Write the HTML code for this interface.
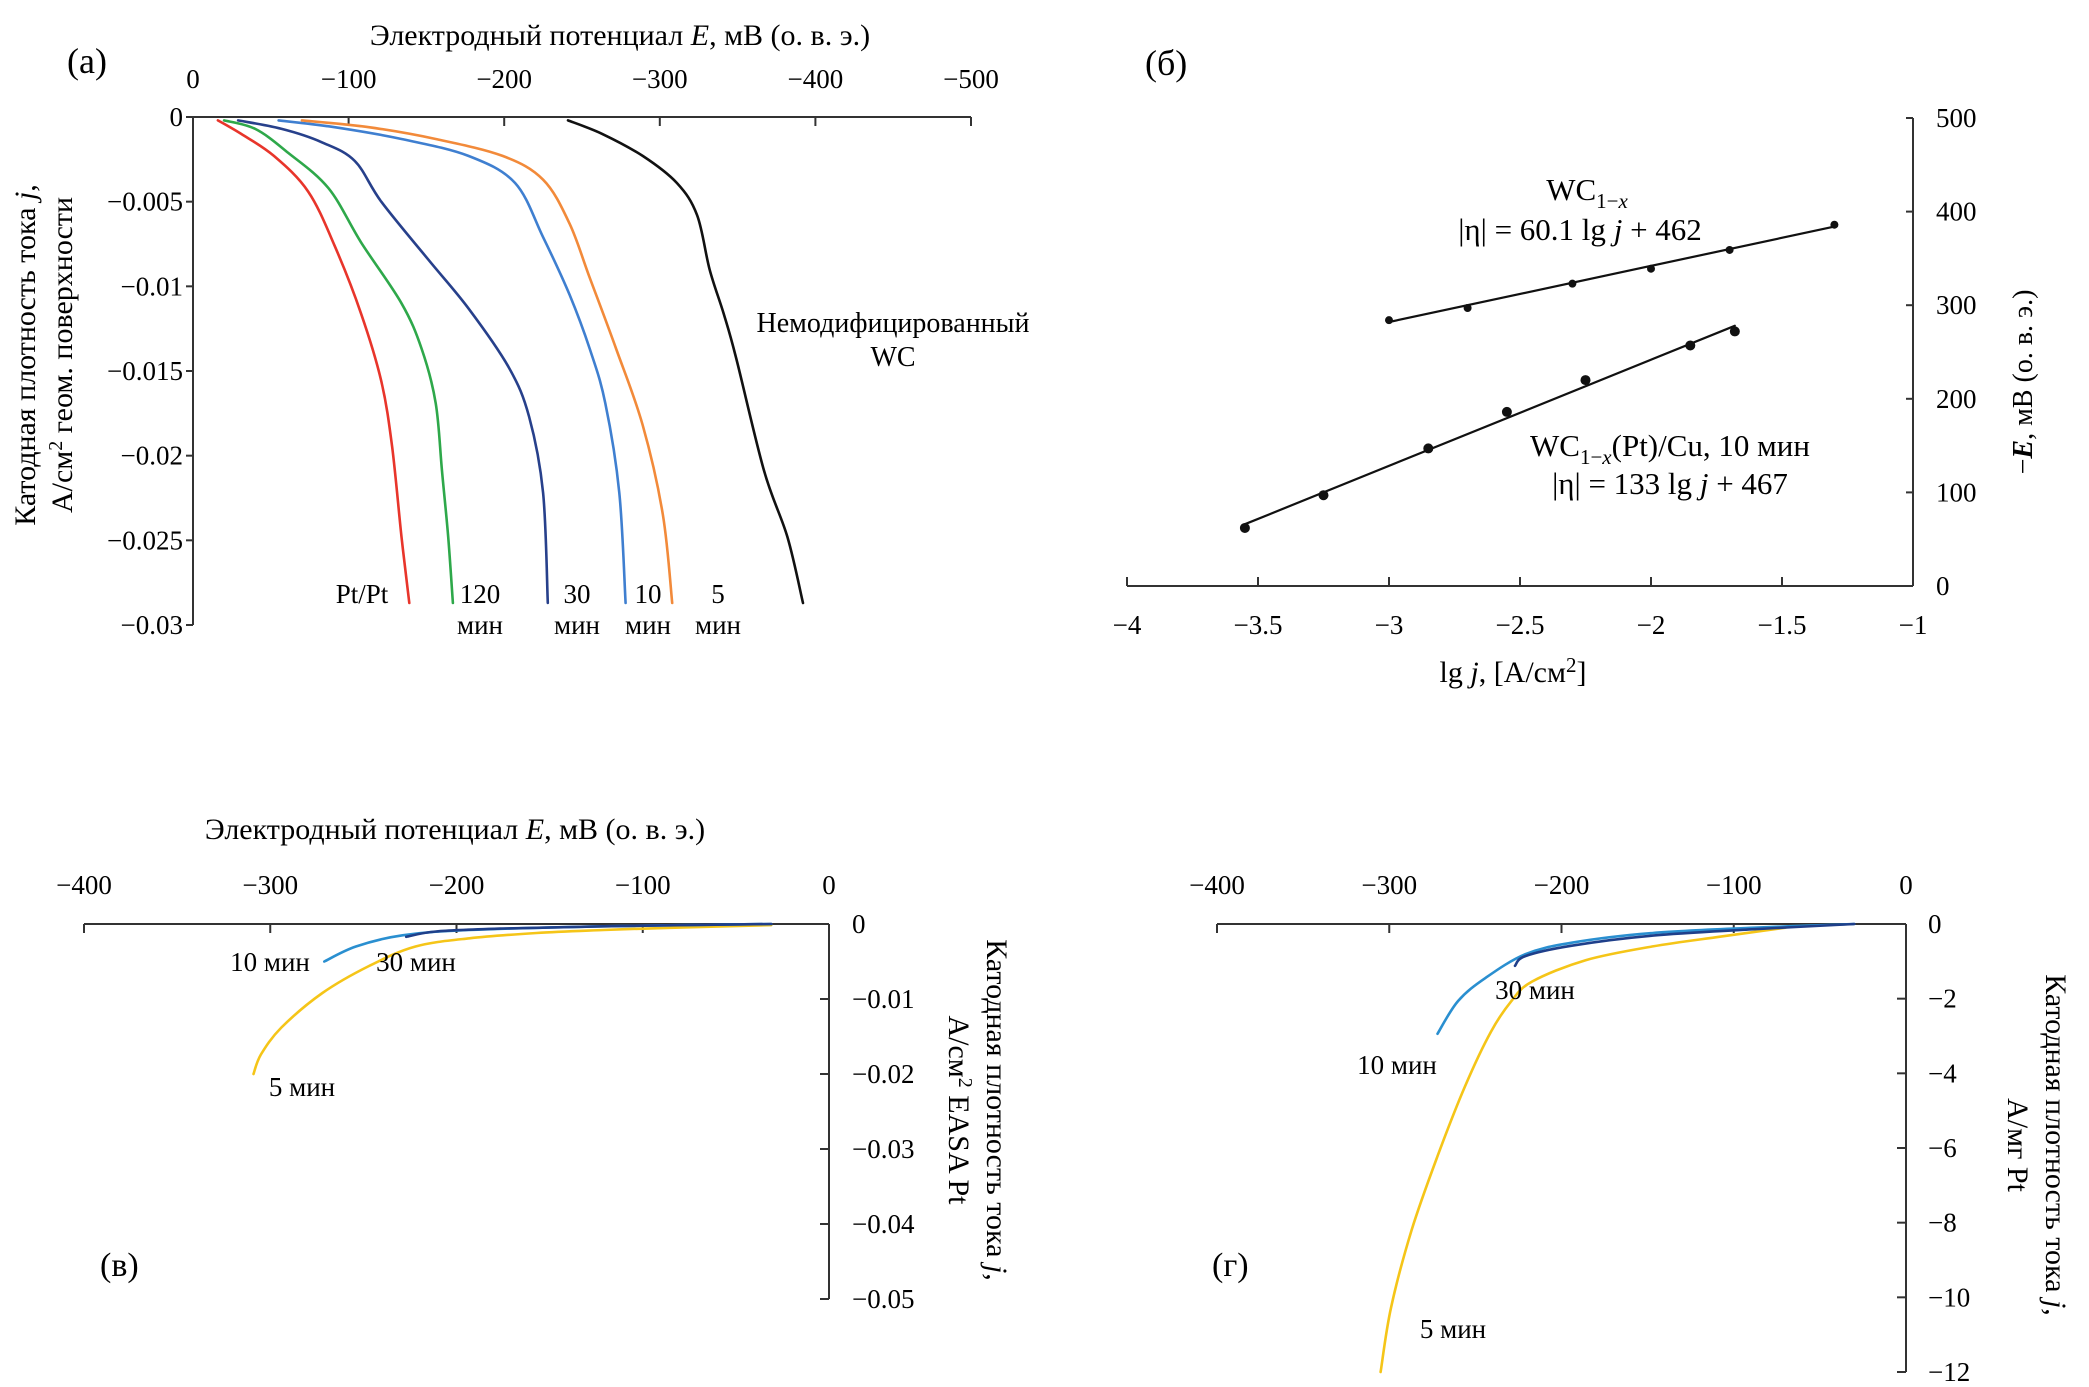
<!DOCTYPE html>
<html><head><meta charset="utf-8"><style>
html,body{margin:0;padding:0;background:#fff}
svg{display:block;font-family:"Liberation Serif","Noto Serif CJK SC",serif}
</style></head><body>
<svg id="fig" width="2089" height="1387" viewBox="0 0 2089 1387" xmlns="http://www.w3.org/2000/svg">
<g id="ga"></g>
<g id="gb"></g>
<g id="gc"></g>
<g id="gd"></g>
</svg>
<script>
// ---- panel (a) data ----
const aTicksX=[0,-100,-200,-300,-400,-500];
const aTicksY=[0,-0.005,-0.01,-0.015,-0.02,-0.025,-0.03];
const aPtE=[-16,-31,-52,-74,-91,-108,-121,-128,-134,-139];
const aPtJ=[-0.0002,-0.001,-0.0023,-0.0044,-0.0076,-0.0116,-0.0156,-0.0195,-0.0248,-0.0287];
const a120E=[-20,-40,-61,-87,-108,-134,-147,-156,-160,-164,-167];
const a120J=[-0.0002,-0.0007,-0.0021,-0.0042,-0.0074,-0.011,-0.0137,-0.0169,-0.0209,-0.0248,-0.0287];
const a30E=[-29,-57,-83,-104,-121,-151,-177,-203,-216,-225,-228];
const a30J=[-0.0002,-0.0007,-0.0015,-0.0026,-0.005,-0.0084,-0.0113,-0.0148,-0.0177,-0.0222,-0.0287];
const a10E=[-55,-91,-134,-177,-207,-225,-242,-255,-265,-274,-278];
const a10J=[-0.0002,-0.0006,-0.0013,-0.0023,-0.0039,-0.0071,-0.0105,-0.0137,-0.0169,-0.0222,-0.0287];
const a5E=[-70,-113,-156,-199,-225,-242,-255,-272,-289,-302,-308];
const a5J=[-0.0002,-0.0006,-0.0013,-0.0023,-0.0037,-0.0063,-0.0095,-0.0137,-0.0182,-0.0235,-0.0287];
const aWcE=[-241,-263,-289,-311,-324,-332,-341,-349,-367,-382,-392];
const aWcJ=[-0.0002,-0.001,-0.0023,-0.0039,-0.0058,-0.009,-0.0116,-0.0142,-0.0209,-0.0248,-0.0287];
// ---- panel (б) data ----
const bTicksX=[-4,-3.5,-3,-2.5,-2,-1.5,-1];
const bTicksY=[0,100,200,300,400,500];
const bUpX=[-3,-2.7,-2.3,-2,-1.7,-1.3];
const bUpY=[284,297,323,339,359,386];
const bUpFitX=[-3,-1.3];
const bUpFitY=[282,384];
const bLoX=[-3.55,-3.25,-2.85,-2.55,-2.25,-1.85,-1.68];
const bLoY=[62,97,147,186,220,257,272];
const bLoFitX=[-3.55,-1.68];
const bLoFitY=[66,278];
// ---- panel (в) data ----
const cTicksX=[-400,-300,-200,-100,0];
const cTicksY=[0,-0.01,-0.02,-0.03,-0.04,-0.05];
const c5E=[-31,-85,-121,-157,-193,-222,-247,-272,-294,-305,-309];
const c5J=[-0.00015,-0.0005,-0.0008,-0.0012,-0.0019,-0.003,-0.0056,-0.0092,-0.0138,-0.0174,-0.02];
const c10E=[-31,-121,-193,-229,-254,-271];
const c10J=[0,-0.0003,-0.0008,-0.0015,-0.003,-0.005];
const c30E=[-31,-121,-175,-211,-227];
const c30J=[0,-0.0003,-0.0006,-0.001,-0.0017];
// ---- panel (г) data ----
const dTicksX=[-400,-300,-200,-100,0];
const dTicksY=[0,-2,-4,-6,-8,-10,-12];
const d5E=[-70,-108,-147,-186,-217,-229,-241,-256,-272,-287,-299,-305];
const d5J=[-0.1,-0.34,-0.6,-0.97,-1.54,-2.06,-2.89,-4.35,-6.22,-8.2,-10.28,-12];
const d10E=[-30,-88,-147,-194,-221,-244,-260,-272];
const d10J=[0,-0.1,-0.24,-0.5,-0.81,-1.44,-2.06,-2.94];
const d30E=[-30,-88,-147,-194,-221,-227];
const d30J=[0,-0.14,-0.31,-0.58,-0.86,-1.12];

const NS='http://www.w3.org/2000/svg';
function mk(parent,tag,attrs,text){const e=document.createElementNS(NS,tag);for(const k in attrs)e.setAttribute(k,attrs[k]);if(text!==undefined)e.textContent=text;parent.appendChild(e);return e;}
function lin(d0,d1,r0,r1){return v=>r0+(v-d0)*(r1-r0)/(d1-d0);}
function fmt(v){return String(v).replace('-','\u2212');}
function curve(g,xs,ys,X,Y,color,name,w,straight){
  const P=xs.map((v,i)=>[X(v),Y(ys[i])]);
  let d='M'+P[0][0].toFixed(1)+','+P[0][1].toFixed(1);
  for(let i=0;i<P.length-1;i++){
    if(straight){d+='L'+P[i+1][0].toFixed(1)+','+P[i+1][1].toFixed(1);continue;}
    const p0=P[i-1]||P[i],p1=P[i],p2=P[i+1],p3=P[i+2]||P[i+1];
    const c1=[p1[0]+(p2[0]-p0[0])/6,p1[1]+(p2[1]-p0[1])/6];
    const c2=[p2[0]-(p3[0]-p1[0])/6,p2[1]-(p3[1]-p1[1])/6];
    d+='C'+c1[0].toFixed(1)+','+c1[1].toFixed(1)+' '+c2[0].toFixed(1)+','+c2[1].toFixed(1)+' '+p2[0].toFixed(1)+','+p2[1].toFixed(1);
  }
  const p=mk(g,'path',{d:d,fill:'none',stroke:color,'stroke-width':w||2.6,'stroke-linejoin':'round','stroke-linecap':'round'});
  
  
  return p;
}
function txt(g,x,y,s,size,anchor,name,extra){
  const t=mk(g,'text',Object.assign({x:x,y:y,'font-size':size,'text-anchor':anchor||'start'},extra||{}),s);
  
  
  return t;
}
const AX='#333';

// ===== Panel (a) =====
(function(){
 const g=document.getElementById('ga');
 const X=lin(0,-500,193,971), Y=lin(0,-0.03,117,625);
 mk(g,'line',{x1:193,y1:117,x2:971,y2:117,stroke:AX,'stroke-width':2});
 mk(g,'line',{x1:193,y1:117,x2:193,y2:625,stroke:AX,'stroke-width':2});
 aTicksX.forEach(v=>{mk(g,'line',{x1:X(v),y1:117,x2:X(v),y2:126,stroke:AX,'stroke-width':2});
   txt(g,X(v),88,fmt(v),27,'middle','x-tick-label');});
 aTicksY.forEach(v=>{mk(g,'line',{x1:186,y1:Y(v),x2:193,y2:Y(v),stroke:AX,'stroke-width':2});
   txt(g,183,Y(v)+9,fmt(v),27,'end','y-tick-label');});
 const t=txt(g,620,45,'',30,'middle','x-axis-title');
 t.innerHTML='Электродный потенциал <tspan font-style="italic">E</tspan>, мВ (о. в. э.)';
 txt(g,67,73,'(а)',36,'start','panel-label');
 const yt=txt(g,0,0,'',30,'middle','y-axis-title',{transform:'translate(35,355) rotate(-90)'});
 yt.innerHTML='Катодная плотность тока <tspan font-style="italic">j</tspan>,';
 const yt2=txt(g,0,0,'',30,'middle','y-axis-title-units',{transform:'translate(72,355) rotate(-90)'});
 yt2.innerHTML='А/см<tspan dy="-10" font-size="20">2</tspan><tspan dy="10"> геом. поверхности</tspan>';
 curve(g,aPtE,aPtJ,X,Y,'#e8352b','curve-pt-pt');
 curve(g,a120E,a120J,X,Y,'#2ea84a','curve-120-min');
 curve(g,a30E,a30J,X,Y,'#27408b','curve-30-min');
 curve(g,a10E,a10J,X,Y,'#3f7fd0','curve-10-min');
 curve(g,a5E,a5J,X,Y,'#f28a3a','curve-5-min');
 curve(g,aWcE,aWcJ,X,Y,'#111','curve-unmodified-wc');
 txt(g,362,603,'Pt/Pt',27,'middle','label-pt-pt');
 txt(g,480,603,'120',27,'middle','label-120');txt(g,480,634,'мин',27,'middle','label-120-min');
 txt(g,577,603,'30',27,'middle','label-30');txt(g,577,634,'мин',27,'middle','label-30-min');
 txt(g,648,603,'10',27,'middle','label-10');txt(g,648,634,'мин',27,'middle','label-10-min');
 txt(g,718,603,'5',27,'middle','label-5');txt(g,718,634,'мин',27,'middle','label-5-min');
 txt(g,893,332,'Немодифицированный',28,'middle','label-unmodified');
 txt(g,893,366,'WC',28,'middle','label-wc');
})();

// ===== Panel (б) =====
(function(){
 const g=document.getElementById('gb');
 const X=lin(-4,-1,1127,1913), Y=lin(0,500,586,118);
 mk(g,'line',{x1:1127,y1:586,x2:1913,y2:586,stroke:AX,'stroke-width':2});
 mk(g,'line',{x1:1913,y1:118,x2:1913,y2:586,stroke:AX,'stroke-width':2});
 bTicksX.forEach(v=>{mk(g,'line',{x1:X(v),y1:577,x2:X(v),y2:586,stroke:AX,'stroke-width':2});
   txt(g,X(v),634,fmt(v),27,'middle','x-tick-label');});
 bTicksY.forEach(v=>{mk(g,'line',{x1:1906,y1:Y(v),x2:1913,y2:Y(v),stroke:AX,'stroke-width':2});
   txt(g,1936,Y(v)+9,String(v),27,'start','y-tick-label');});
 const xt=txt(g,1513,682,'',30,'middle','x-axis-title');
 xt.innerHTML='lg <tspan font-style="italic">j</tspan>, [А/см<tspan dy="-10" font-size="21">2</tspan><tspan dy="10">]</tspan>';
 const yt=txt(g,0,0,'',28,'middle','y-axis-title',{transform:'translate(2032,382) rotate(-90)'});
 yt.innerHTML='−<tspan font-style="italic" font-weight="bold">E</tspan>, мВ (о. в. э.)';
 txt(g,1145,75,'(б)',36,'start','panel-label');
 curve(g,bUpFitX,bUpFitY,X,Y,'#111','fit-line-wc',2.2,true);
 curve(g,bLoFitX,bLoFitY,X,Y,'#111','fit-line-wc-pt-cu',2.2,true);
 bUpX.forEach((v,i)=>{const c=mk(g,'circle',{cx:X(v),cy:Y(bUpY[i]),r:4,fill:'#111'});
   
   });
 bLoX.forEach((v,i)=>{const c=mk(g,'circle',{cx:X(v),cy:Y(bLoY[i]),r:5,fill:'#111'});
   
   });
 const l1=txt(g,1587,200,'',31,'middle','label-wc');
 l1.innerHTML='WC<tspan dy="8" font-size="21">1−<tspan font-style="italic">x</tspan></tspan>';
 const l2=txt(g,1580,240,'',31,'middle','equation-wc');
 l2.innerHTML='|η| = 60.1 lg <tspan font-style="italic">j</tspan> + 462';
 const l3=txt(g,1670,456,'',31,'middle','label-wc-pt-cu');
 l3.innerHTML='WC<tspan dy="8" font-size="21">1−<tspan font-style="italic">x</tspan></tspan><tspan dy="-8">(Pt)/Cu, 10 мин</tspan>';
 const l4=txt(g,1670,494,'',31,'middle','equation-wc-pt-cu');
 l4.innerHTML='|η| = 133 lg <tspan font-style="italic">j</tspan> + 467';
})();

// ===== Panel (в) =====
(function(){
 const g=document.getElementById('gc');
 const X=lin(-400,0,84,829), Y=lin(0,-0.05,924,1299);
 mk(g,'line',{x1:84,y1:924,x2:829,y2:924,stroke:AX,'stroke-width':2});
 mk(g,'line',{x1:829,y1:924,x2:829,y2:1299,stroke:AX,'stroke-width':2});
 cTicksX.forEach(v=>{mk(g,'line',{x1:X(v),y1:924,x2:X(v),y2:933,stroke:AX,'stroke-width':2});
   txt(g,X(v),894,fmt(v),27,'middle','x-tick-label');});
 cTicksY.forEach(v=>{mk(g,'line',{x1:820,y1:Y(v),x2:829,y2:Y(v),stroke:AX,'stroke-width':2});
   txt(g,852,Y(v)+9,fmt(v),27,'start','y-tick-label');});
 const t=txt(g,455,839,'',30,'middle','x-axis-title');
 t.innerHTML='Электродный потенциал <tspan font-style="italic">E</tspan>, мВ (о. в. э.)';
 const yt=txt(g,0,0,'',30,'middle','y-axis-title',{transform:'translate(987,1110) rotate(90)'});
 yt.innerHTML='Катодная плотность тока <tspan font-style="italic">j</tspan>,';
 const yt2=txt(g,0,0,'',30,'middle','y-axis-title-units',{transform:'translate(949,1110) rotate(90)'});
 yt2.innerHTML='А/см<tspan dy="-10" font-size="20">2</tspan><tspan dy="10"> EASA Pt</tspan>';
 txt(g,100,1276,'(в)',34,'start','panel-label');
 curve(g,c5E,c5J,X,Y,'#f5c518','curve-5-min');
 curve(g,c10E,c10J,X,Y,'#2a8fd0','curve-10-min');
 curve(g,c30E,c30J,X,Y,'#1f3f8a','curve-30-min');
 txt(g,270,971,'10 мин',27,'middle','label-10-min');
 txt(g,416,971,'30 мин',27,'middle','label-30-min');
 txt(g,302,1096,'5 мин',27,'middle','label-5-min');
})();

// ===== Panel (г) =====
(function(){
 const g=document.getElementById('gd');
 const X=lin(-400,0,1217,1906), Y=lin(0,-12,924,1372);
 mk(g,'line',{x1:1217,y1:924,x2:1906,y2:924,stroke:AX,'stroke-width':2});
 mk(g,'line',{x1:1906,y1:924,x2:1906,y2:1372,stroke:AX,'stroke-width':2});
 dTicksX.forEach(v=>{mk(g,'line',{x1:X(v),y1:924,x2:X(v),y2:933,stroke:AX,'stroke-width':2});
   txt(g,X(v),894,fmt(v),27,'middle','x-tick-label');});
 dTicksY.forEach(v=>{mk(g,'line',{x1:1897,y1:Y(v),x2:1906,y2:Y(v),stroke:AX,'stroke-width':2});
   txt(g,1928,Y(v)+9,fmt(v),27,'start','y-tick-label');});
 const yt=txt(g,0,0,'',30,'middle','y-axis-title',{transform:'translate(2046,1145) rotate(90)'});
 yt.innerHTML='Катодная плотность тока <tspan font-style="italic">j</tspan>,';
 txt(g,0,0,'А/мг Pt',30,'middle','y-axis-title-units',{transform:'translate(2008,1145) rotate(90)'});
 txt(g,1212,1276,'(г)',34,'start','panel-label');
 curve(g,d5E,d5J,X,Y,'#f5c518','curve-5-min');
 curve(g,d10E,d10J,X,Y,'#2a8fd0','curve-10-min');
 curve(g,d30E,d30J,X,Y,'#1f3f8a','curve-30-min');
 txt(g,1535,999,'30 мин',27,'middle','label-30-min');
 txt(g,1397,1074,'10 мин',27,'middle','label-10-min');
 txt(g,1453,1338,'5 мин',27,'middle','label-5-min');
})();
</script>
</body></html>
